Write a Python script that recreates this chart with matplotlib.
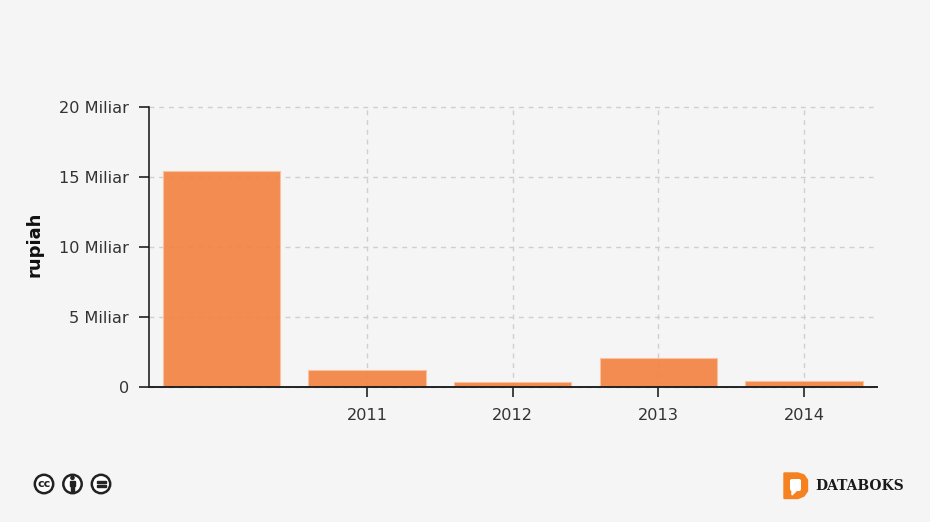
import matplotlib
matplotlib.use("Agg")
import matplotlib.pyplot as plt
from matplotlib.patches import Circle, Polygon, Rectangle, FancyBboxPatch

W = 930
H = 522
BG = "#f5f5f5"

years = ["", "2011", "2012", "2013", "2014"]
values = [15.43, 1.18, 0.35, 2.05, 0.42]
y_ticks = [0, 5, 10, 15, 20]
y_labels = ["0", "5 Miliar", "10 Miliar", "15 Miliar", "20 Miliar"]

fig = plt.figure(figsize=(W / 100, H / 100), dpi=100, facecolor=BG)
ax = fig.add_axes([148.5 / W, 1 - 387 / H, (877 - 148.5) / W, 280 / H], facecolor=BG)

x = list(range(len(years)))
step = 145.6
ax.set_xlim((148.5 - 221.5) / step, (877 - 221.5) / step)
ax.set_ylim(0, 20)

# grid stops a bit short of the x axis end
grid_end = (873 - 148.5) / (877 - 148.5)
ax.hlines(y_ticks, 0, grid_end, transform=ax.get_yaxis_transform(),
          colors="#cfcfcf", linestyles=(0, (3.5, 3.5)), linewidth=1, zorder=1, clip_on=False)
ax.vlines(x[1:], 0, 20, colors="#cfcfcf", linestyles=(0, (3.5, 3.5)), linewidth=1, zorder=1)

ax.bar(x, values, width=117.5 / step, color="#f38342", alpha=0.92,
       edgecolor="#f9c3a0", linewidth=0.8, zorder=2)

for s in ["top", "right"]:
    ax.spines[s].set_visible(False)
ax.spines["left"].set_linewidth(1.1)
ax.spines["bottom"].set_linewidth(1.4)
ax.spines["left"].set_color("#111111")
ax.spines["bottom"].set_color("#222222")
ax.spines["left"].set_zorder(5)
ax.spines["bottom"].set_zorder(5)

ax.set_xticks(x[1:])
ax.set_xticklabels(years[1:])
ax.set_yticks(y_ticks)
ax.set_yticklabels(y_labels)
ax.tick_params(axis="y", length=7, width=1.2, color="#222222", pad=7,
               labelsize=11.6, labelcolor="#333333")
ax.tick_params(axis="x", length=7, width=1.2, color="#222222", pad=8,
               labelsize=11.6, labelcolor="#333333")

fig.text(34.5 / W, 1 - 244 / H, "rupiah", rotation=90, ha="center", va="center",
         fontsize=13, fontweight="bold", color="#111111")

# footer logos, overlay in pixel coords
ov = fig.add_axes([0, 0, 1, 1], facecolor="none")
ov.set_xlim(0, W)
ov.set_ylim(H, 0)
ov.set_axis_off()

dark = "#222222"
for cx in [44, 72.5, 101]:
    ov.add_patch(Circle((cx, 484), 9.2, facecolor="#ffffff", edgecolor=dark, linewidth=1.8))

ov.text(44, 484, "cc", ha="center", va="center", fontsize=8, fontweight="bold", color=dark)

# person
ov.add_patch(Circle((72.5, 477.8), 1.6, color=dark))
ov.add_patch(Rectangle((70, 480.5), 5, 5, color=dark))
ov.add_patch(Rectangle((71.2, 485), 2.6, 5.5, color=dark))

# equals sign
ov.add_patch(Rectangle((96.5, 481), 9, 1.8, color=dark))
ov.add_patch(Rectangle((96.5, 485.2), 9, 1.8, color=dark))

# databoks D
orange = "#f58220"
ov.add_patch(Polygon([(784, 473), (798, 473), (804, 475), (807.5, 480), (807.5, 491),
                      (804, 496), (798, 498.5), (784, 498.5)], closed=True, color=orange))
ov.add_patch(FancyBboxPatch((790, 479), 11, 12, boxstyle="round,pad=0,rounding_size=2",
                            facecolor="#ffffff", edgecolor="none"))
ov.add_patch(Polygon([(792, 490), (797, 490), (792, 495)], closed=True, color="#ffffff"))

ov.text(815, 486, "DATABOKS", ha="left", va="center", family="DejaVu Serif",
        fontweight="bold", fontsize=10, color="#1a1a1a")

fig.savefig("out.png", dpi=100, facecolor=BG)
